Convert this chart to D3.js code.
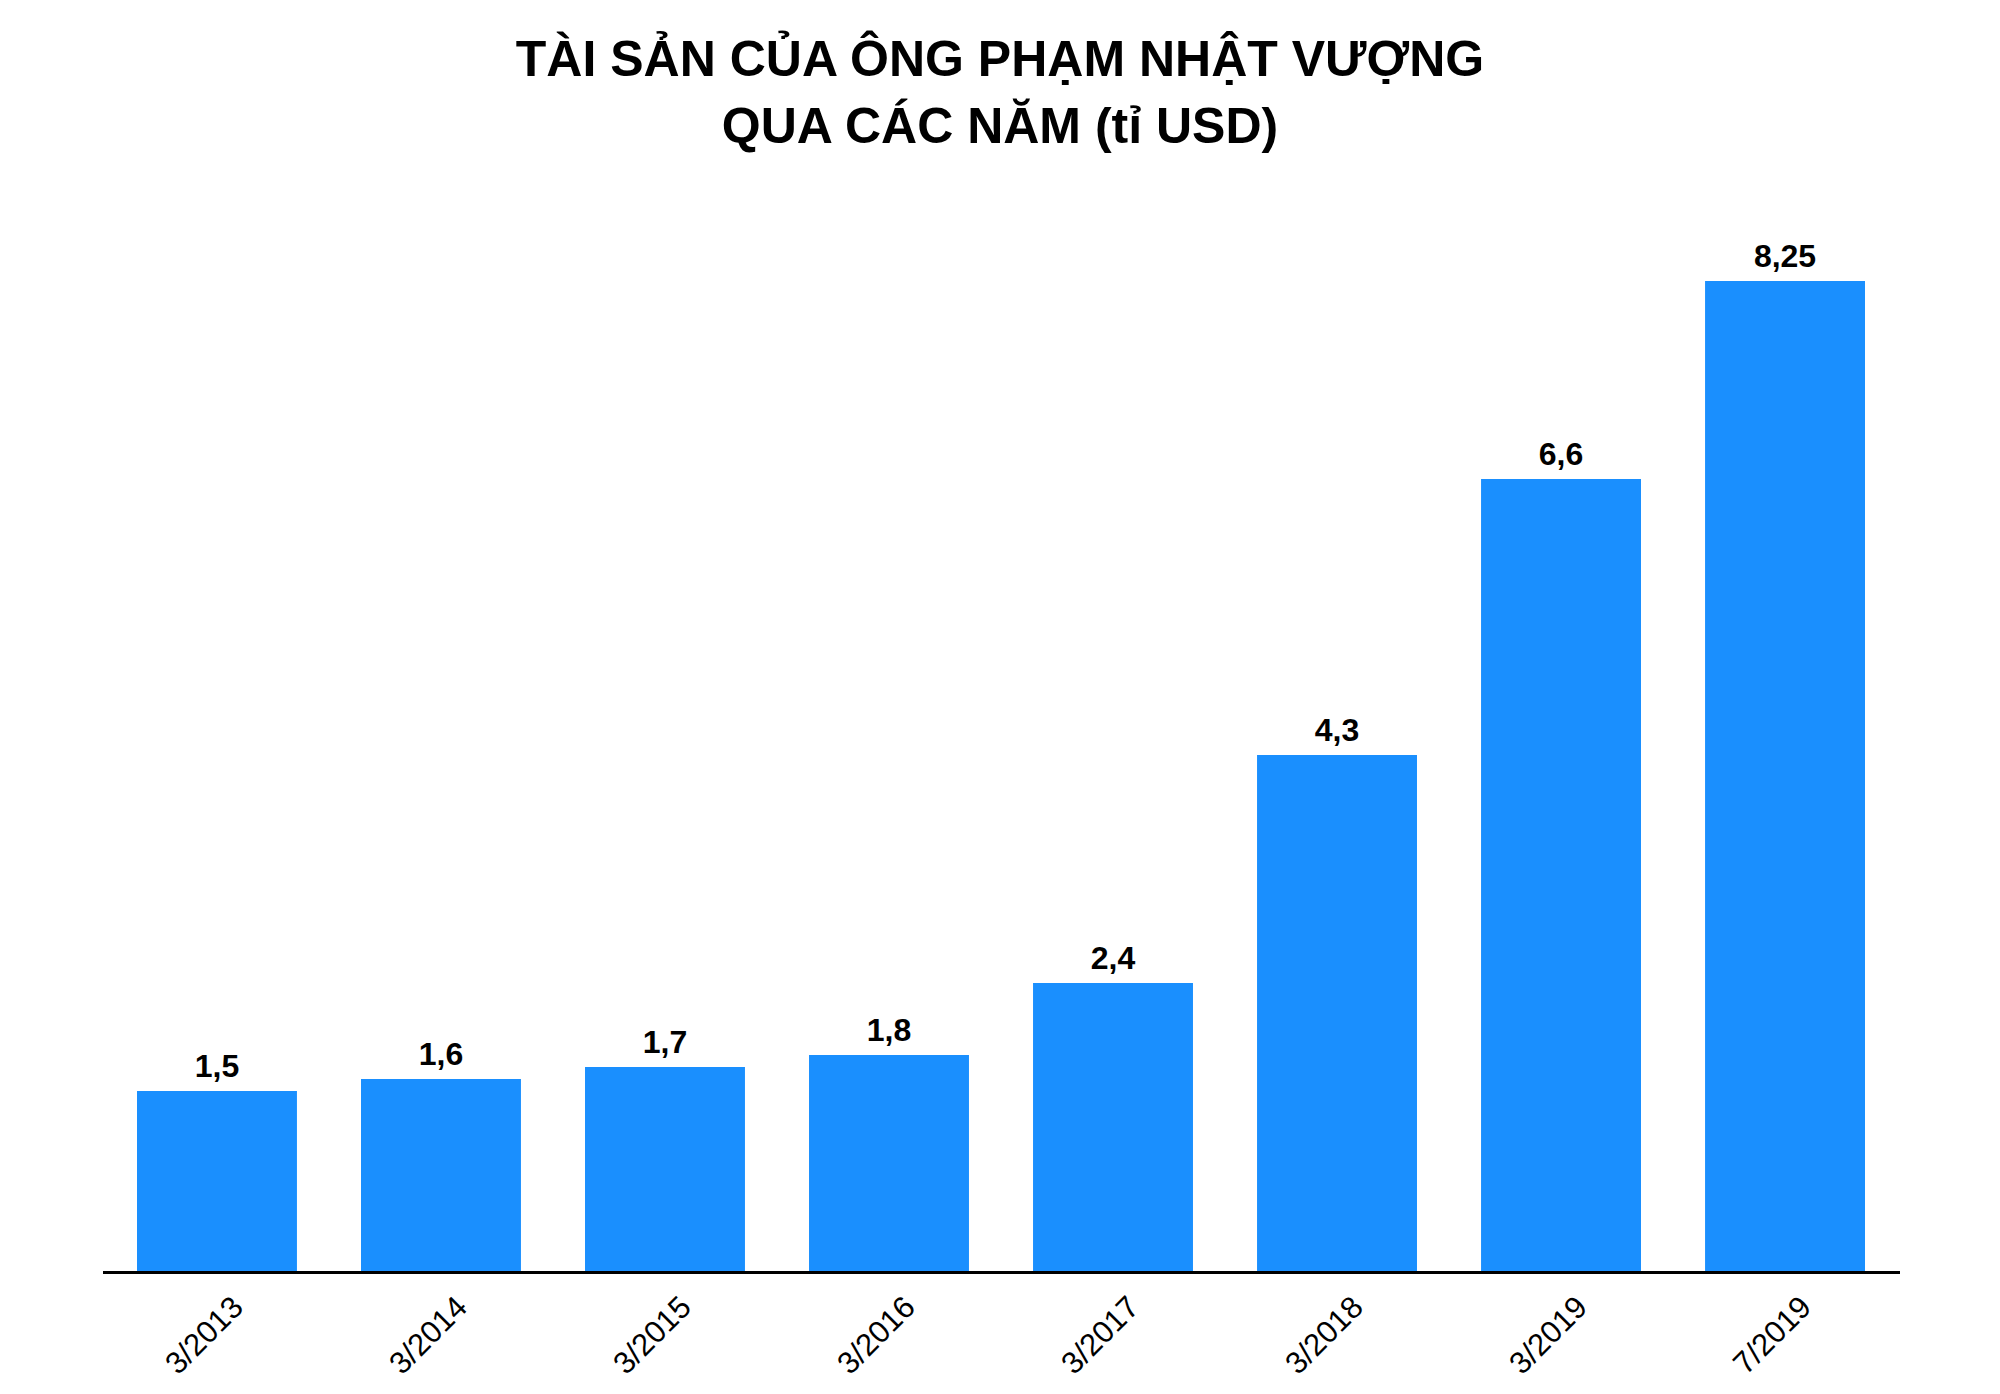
<!DOCTYPE html>
<html>
<head>
<meta charset="utf-8">
<script src="https://cdn.jsdelivr.net/npm/d3@7"></script>
<style>
  body { margin: 0; background: #fff; }
  text { font-family: "Liberation Sans", Arial, sans-serif; }
</style>
</head>
<body>
<svg id="chart" width="2000" height="1394"></svg>
<script>
// ----- Data
const periods = ["3/2013", "3/2014", "3/2015", "3/2016", "3/2017", "3/2018", "3/2019", "7/2019"];
const values = [1.5, 1.6, 1.7, 1.8, 2.4, 4.3, 6.6, 8.25];
const titleLines = ["TÀI SẢN CỦA ÔNG PHẠM NHẬT VƯỢNG", "QUA CÁC NĂM (tỉ USD)"];

const svg = d3.select("#chart");
const baseY = 1271;

const x = d3.scaleBand().domain(periods).range([137, 1865]).paddingInner(0.286);
const y = d3.scaleLinear().domain([0, 8.25]).range([baseY, 281]);

// title
svg.append("g").selectAll("text")
  .data(titleLines)
  .join("text")
    .attr("x", 1000)
    .attr("y", (d, i) => 76 + i * 67)
    .attr("text-anchor", "middle")
    .attr("font-size", 50)
    .attr("font-weight", "bold")
    .text(d => d);

// bars
svg.append("g").selectAll("rect")
  .data(values)
  .join("rect")
    .attr("x", (d, i) => x(periods[i]))
    .attr("y", d => y(d))
    .attr("width", x.bandwidth())
    .attr("height", d => baseY - y(d))
    .attr("fill", "#1a8ffe");

// value labels
svg.append("g").selectAll("text")
  .data(values)
  .join("text")
    .attr("x", (d, i) => x(periods[i]) + x.bandwidth() / 2)
    .attr("y", d => y(d) - 14)
    .attr("text-anchor", "middle")
    .attr("font-size", 32)
    .attr("font-weight", "bold")
    .text(d => String(d).replace(".", ","));

// x axis
const xAxis = d3.axisBottom(x).tickSize(0).tickPadding(0);
svg.append("g")
  .attr("transform", `translate(0,${baseY})`)
  .call(xAxis)
  .call(g => g.select(".domain").remove())
  .call(g => g.selectAll(".tick text")
    .attr("font-size", 31)
    .attr("font-family", "Liberation Sans, Arial, sans-serif")
    .attr("fill", "#000")
    .attr("text-anchor", "end")
    .attr("dy", 0)
    .attr("transform", "translate(28,38) rotate(-45)"));

svg.append("line")
  .attr("x1", 103).attr("x2", 1900)
  .attr("y1", baseY + 1.5).attr("y2", baseY + 1.5)
  .attr("stroke", "#000").attr("stroke-width", 3);
</script>
</body>
</html>
